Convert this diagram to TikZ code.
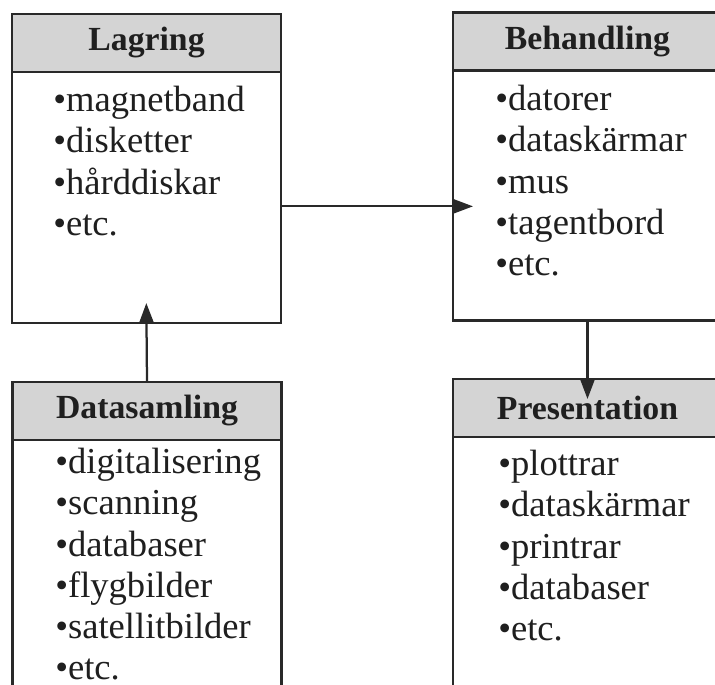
\documentclass[tikz,border=0pt]{standalone}
\usepackage{fontspec}
\setmainfont{Liberation Serif}
\usetikzlibrary{positioning,arrows.meta}
\definecolor{inkcolor}{gray}{0.16}
\tikzset{
  hdr/.style={draw=inkcolor, line width=1.6pt, fill=black!17, minimum width=6.725cm, minimum height=1.45cm, outer sep=0pt, inner sep=0pt, text=black!88, font=\fontsize{24}{28}\selectfont\bfseries},
  body/.style={draw=inkcolor, line width=1.6pt, fill=white, minimum width=6.725cm, outer sep=0pt, inner sep=0pt},
  lst/.style={anchor=north west, align=left, inner sep=0pt, text=black!88, font=\fontsize{26}{29.3}\selectfont},
  flow/.style={draw=inkcolor, line width=1.6pt, -{Triangle[length=5mm,width=3.6mm]}, shorten >=-5mm},
}
\begin{document}
\begin{tikzpicture}[x=0.025cm, y=-0.025cm]
\useasboundingbox (0,0) rectangle (715,684);
\clip (0,0) rectangle (715,684);
% storage and processing
\node[hdr] (lag) at (146.5,43) {Lagring};
\node[body, minimum height=6.275cm, below=0pt of lag] (lagb) {};
\node[lst] (lagl) at (53,86) {\textbullet magnetband\\\textbullet disketter\\\textbullet hårddiskar\\\textbullet etc.};
\node[hdr] (beh) at (587.5,41.5) {Behandling};
\node[body, minimum height=6.25cm, below=0pt of beh] (behb) {};
\node[lst] (behl) at (495,85) {\textbullet datorer\\\textbullet dataskärmar\\\textbullet mus\\\textbullet tagentbord\\\textbullet etc.};
% collection and output
\node[hdr] (dat) at (147,411) {Datasamling};
\node[body, minimum height=7cm, below=0pt of dat] (datb) {};
\node[lst] (datl) at (55,448) {\textbullet digitalisering\\\textbullet scanning\\\textbullet databaser\\\textbullet flygbilder\\\textbullet satellitbilder\\\textbullet etc.};
\node[hdr] (pres) at (587.5,408) {Presentation};
\node[body, minimum height=7cm, below=0pt of pres] (presb) {};
\node[lst] (presl) at (498,450) {\textbullet plottrar\\\textbullet dataskärmar\\\textbullet printrar\\\textbullet databaser\\\textbullet etc.};
\draw[flow] ([yshift=-0.22cm]lagb.east) -- ([yshift=-0.22cm]lagb.east -| behb.west);
\draw[flow] (dat.north) -- (lagb.south);
\draw[flow] (behb.south) -- (pres.north);
\end{tikzpicture}
\end{document}
